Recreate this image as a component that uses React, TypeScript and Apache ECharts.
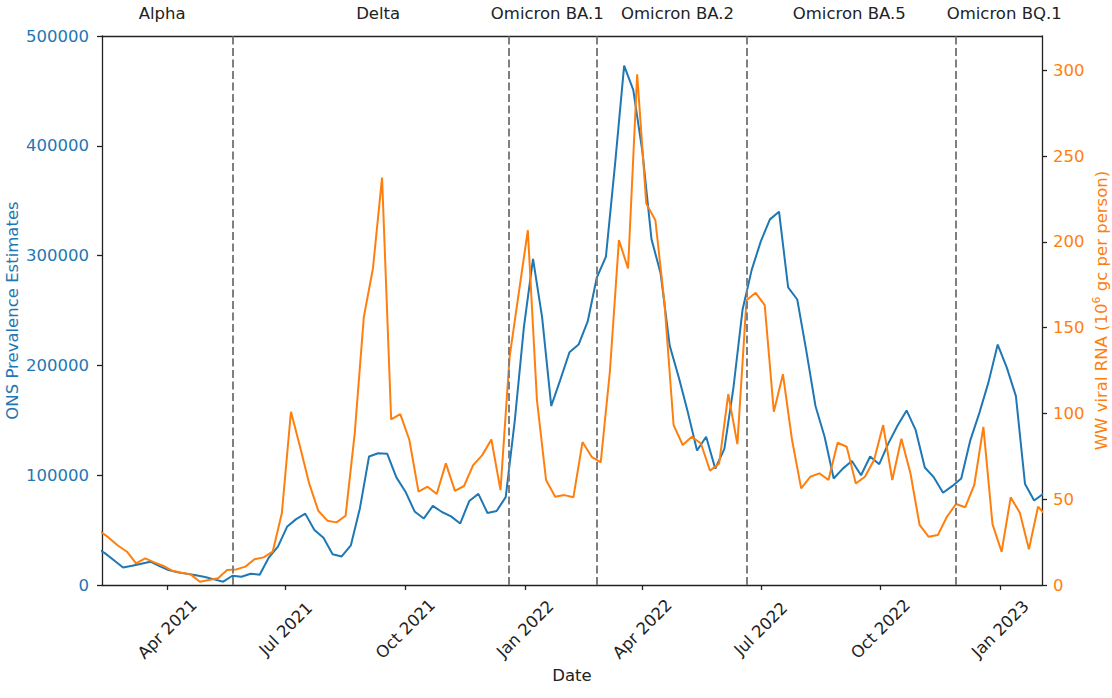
import React, { useEffect, useRef } from "react";
import * as echarts from "echarts";

// ---------- data ----------
const onsStartDate = "2021-02-05"; // weekly ONS estimates
const wwStartDate = "2021-02-08"; // weekly wastewater estimates

const onsPrevalence = [
  34000, 29000, 22500, 16000, 17500, 19300, 21200, 17200, 13600, 11500,
  10300, 8800, 7300, 5100, 3000, 8400, 7500, 10300, 9400, 25000,
  35000, 53000, 60000, 65000, 50000, 43000, 28000, 26000, 36000, 70000,
  117000, 120000, 119500, 98000, 85000, 67000, 60500, 72000, 66500, 62500,
  56000, 76500, 83000, 65600, 67400, 80000, 150000, 235000, 297000, 243500,
  163000, 187000, 212000, 219000, 240000, 280000, 299000, 383000, 473000, 451000,
  395000, 315000, 284000, 218000, 189000, 157000, 122500, 135000, 106000, 124000,
  180000, 251000, 287000, 313000, 333000, 340000, 271000, 260000, 213000, 163000,
  135000, 97000, 106000, 113000, 100000, 117000, 110000, 129000, 145000, 159000,
  141000, 107000, 98000, 84000, 90000, 97000, 132000, 157000, 185000, 219000,
  198000, 172000, 92000, 77000, 83000,
];

const wwViralRna = [
  31.5, 27.6, 23.0, 19.4, 12.6, 15.5, 13.2, 11.1, 8.3, 7.2,
  6.2, 1.9, 2.9, 3.9, 8.7, 9.1, 10.7, 15.0, 16.1, 19.4,
  41.8, 101, 80.6, 59.2, 43.3, 37.5, 36.5, 40.4, 88.4, 156.3,
  184.5, 237.5, 96.5, 99.6, 84.5, 54.4, 57.3, 53, 70.9, 54.9,
  57.7, 69.9, 75.7, 84.8, 55.3, 133, 170, 206.8, 107.8, 61.2,
  51.4, 52.4, 51.1, 83.3, 74.7, 71.5, 124, 201, 184.5, 297.7,
  222.3, 212.6, 164.1, 93.2, 81.6, 86.4, 82.5, 66.6, 70.9, 111.3,
  82.1, 166, 170.3, 163.1, 101, 122.9, 84.5, 56.3, 63.1, 65.1,
  61.2, 82.9, 80.6, 59.2, 63.1, 72.8, 93.2, 61.2, 85.2, 65,
  35, 28.1, 29.1, 39.8, 47.2, 45.3, 58.3, 92.2, 35.5, 19.4,
  51.1, 42.1, 20.8, 45.6, 40,
];

const variantChangeDates = ["2021-05-21", "2021-12-19", "2022-02-25", "2022-06-20", "2022-11-28"];
const variantNames = ["Alpha", "Delta", "Omicron BA.1", "Omicron BA.2", "Omicron BA.5", "Omicron BQ.1"];
const variantLabelDates = ["2021-03-28", "2021-09-10", "2022-01-18", "2022-04-28", "2022-09-07", "2023-01-04"];

const xTickDates = [
  "2021-04-01", "2021-07-01", "2021-10-01", "2022-01-01",
  "2022-04-01", "2022-07-01", "2022-10-01", "2023-01-01",
];
const leftTicks = [0, 100000, 200000, 300000, 400000, 500000];
const rightTicks = [0, 50, 100, 150, 200, 250, 300];
const xRange = ["2021-02-09T20:00:00Z", "2023-02-02T01:00:00Z"];
const leftRange = [0, 500000];
const rightRange = [0, 320];

const MONTHS = ["Jan", "Feb", "Mar", "Apr", "May", "Jun", "Jul", "Aug", "Sep", "Oct", "Nov", "Dec"];
const DAY = 86400000;
const ts = (s: string) => Date.parse(s.length === 10 ? s + "T00:00:00Z" : s);
const weekly = (start: string, vals: number[]) =>
  vals.map((v, i) => [ts(start) + i * 7 * DAY, v]);

const BLUE = "#1f77b4";
const ORANGE = "#ff7f0e";
const INK = "#222222";
const FONT = "DejaVu Sans";
const FS = 16.5;

export default function App() {
  const ref = useRef<HTMLDivElement>(null);

  useEffect(() => {
    if (!ref.current) return;
    const chart = echarts.init(ref.current, undefined, { renderer: "svg" });
    const xTicks = xTickDates.map(ts);
    const labelTicks = variantLabelDates.map(ts);

    const option: any = {
      animation: false,
      textStyle: { fontFamily: FONT },
      grid: {
        left: 102,
        right: 70,
        top: 36,
        bottom: 113,
        containLabel: false,
        outerBoundsMode: "none",
      },
      xAxis: [
        {
          type: "value",
          position: "bottom",
          min: ts(xRange[0]),
          max: ts(xRange[1]),
          scale: true,
          name: "Date",
          nameLocation: "middle",
          nameGap: 82,
          nameMoveOverlap: false,
          nameTextStyle: { fontSize: FS, color: INK, fontFamily: FONT },
          axisLine: { show: true, onZero: false, lineStyle: { color: INK, width: 1.3 } },
          axisTick: { show: true, length: 5, customValues: xTicks, lineStyle: { color: INK, width: 1.3 } },
          axisLabel: {
            customValues: xTicks,
            rotate: 45,
            align: "center",
            verticalAlign: "middle",
            margin: 44,
            fontSize: FS,
            color: INK,
            fontFamily: FONT,
            hideOverlap: false,
            formatter: (v: number) => {
              const d = new Date(v);
              return MONTHS[d.getUTCMonth()] + " " + d.getUTCFullYear();
            },
          },
          splitLine: { show: false },
        },
        {
          type: "value",
          position: "top",
          min: ts(xRange[0]),
          max: ts(xRange[1]),
          scale: true,
          axisLine: { show: true, onZero: false, lineStyle: { color: INK, width: 1.3 } },
          axisTick: { show: false },
          axisLabel: {
            customValues: labelTicks,
            margin: 14,
            fontSize: FS,
            color: INK,
            fontFamily: FONT,
            hideOverlap: false,
            formatter: (v: number) => {
              let best = 0;
              labelTicks.forEach((t, i) => {
                if (Math.abs(t - v) < Math.abs(labelTicks[best] - v)) best = i;
              });
              return variantNames[best];
            },
          },
          splitLine: { show: false },
        },
      ],
      yAxis: [
        {
          type: "value",
          position: "left",
          min: leftRange[0],
          max: leftRange[1],
          name: "ONS Prevalence Estimates",
          nameLocation: "middle",
          nameRotate: 90,
          nameGap: 81,
          nameMoveOverlap: false,
          nameTextStyle: { color: BLUE, fontSize: FS, fontFamily: FONT },
          axisLine: { show: true, onZero: false, lineStyle: { color: INK, width: 1.3 } },
          axisTick: { show: true, length: 5, customValues: leftTicks, lineStyle: { color: INK, width: 1.3 } },
          axisLabel: {
            customValues: leftTicks,
            color: BLUE,
            fontSize: FS,
            margin: 13,
            fontFamily: FONT,
            formatter: (v: number) => String(v),
          },
          splitLine: { show: false },
        },
        {
          type: "value",
          position: "right",
          min: rightRange[0],
          max: rightRange[1],
          name: "WW viral RNA (10{sup|6} gc per person)",
          nameLocation: "middle",
          nameRotate: 90,
          nameGap: 49,
          nameMoveOverlap: false,
          nameTextStyle: {
            color: ORANGE,
            fontSize: FS,
            fontFamily: FONT,
            rich: {
              sup: { fontSize: 11, color: ORANGE, fontFamily: FONT, verticalAlign: "top", lineHeight: 20 },
            },
          },
          axisLine: { show: true, onZero: false, lineStyle: { color: INK, width: 1.3 } },
          axisTick: { show: true, length: 5, customValues: rightTicks, lineStyle: { color: INK, width: 1.3 } },
          axisLabel: {
            customValues: rightTicks,
            color: ORANGE,
            fontSize: FS,
            margin: 11,
            fontFamily: FONT,
            formatter: (v: number) => String(v),
          },
          splitLine: { show: false },
        },
      ],
      series: [
        {
          name: "ONS Prevalence Estimates",
          type: "line",
          xAxisIndex: 0,
          yAxisIndex: 0,
          data: weekly(onsStartDate, onsPrevalence),
          showSymbol: false,
          symbol: "none",
          lineStyle: { color: BLUE, width: 2 },
          itemStyle: { color: BLUE },
          clip: true,
          z: 2,
          markLine: {
            silent: true,
            symbol: ["none", "none"],
            label: { show: false },
            lineStyle: { color: "#7f7f7f", type: [8, 3.5], width: 2 },
            data: variantChangeDates.map((d) => ({ xAxis: ts(d) })),
          },
        },
        {
          name: "WW viral RNA",
          type: "line",
          xAxisIndex: 0,
          yAxisIndex: 1,
          data: weekly(wwStartDate, wwViralRna),
          showSymbol: false,
          symbol: "none",
          lineStyle: { color: ORANGE, width: 2 },
          itemStyle: { color: ORANGE },
          clip: true,
          z: 3,
        },
      ],
    };

    chart.setOption(option);
    return () => chart.dispose();
  }, []);

  return (
    <div
      ref={ref}
      style={{ position: "fixed", left: 0, top: 0, width: 1112, height: 698, background: "#ffffff" }}
    />
  );
}
